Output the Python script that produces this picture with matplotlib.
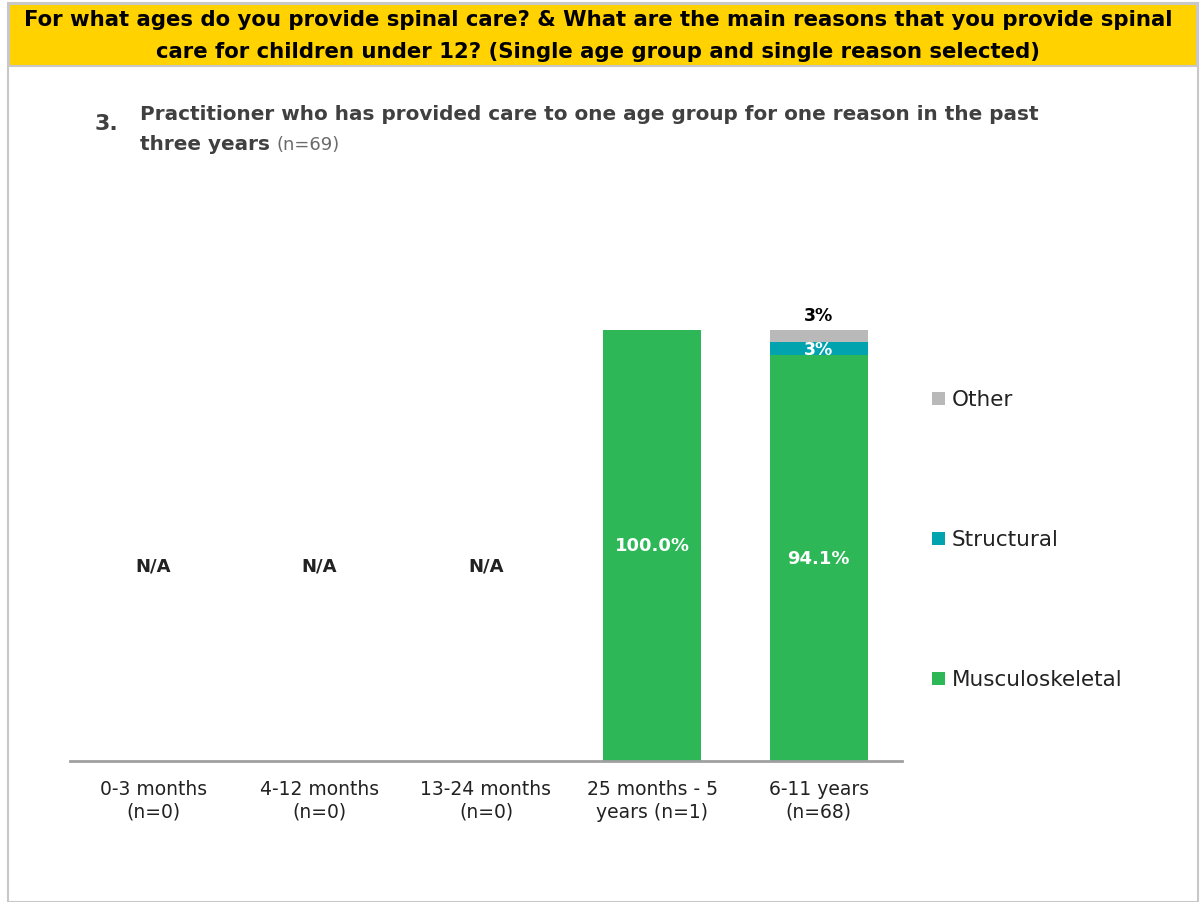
import numpy as np
import matplotlib.pyplot as plt
from matplotlib.patches import Rectangle

categories = ["0-3 months\n(n=0)", "4-12 months\n(n=0)", "13-24 months\n(n=0)",
              "25 months - 5\nyears (n=1)", "6-11 years\n(n=68)"]
musculoskeletal = [0, 0, 0, 100.0, 94.1]
structural = [0, 0, 0, 0, 3.0]
other = [0, 0, 0, 0, 3.0]
has_data = [False, False, False, True, True]

series_names = ["Musculoskeletal", "Structural", "Other"]
colors = ["#2DB757", "#00A3AE", "#B9B9B9"]

fig = plt.figure(figsize=(12.01, 9.03), dpi=100)
W, H = 1201, 903

def fx(px):
    return px / W

def fy(py):
    return 1 - py / H

# outer frame and yellow banner
fig.patches.append(Rectangle((fx(8), fy(903)), fx(1198) - fx(8), fy(4) - fy(903),
                             transform=fig.transFigure, facecolor="white",
                             edgecolor="#C8C8C8", linewidth=1.5, zorder=-2))
fig.patches.append(Rectangle((fx(9), fy(67)), fx(1197) - fx(9), fy(5) - fy(67),
                             transform=fig.transFigure, facecolor="#FFD200",
                             edgecolor="#C8C8C8", linewidth=1.5, zorder=-1))
fig.text(fx(598), fy(36), "For what ages do you provide spinal care? & What are the main reasons that you provide spinal\n"
         "care for children under 12? (Single age group and single reason selected)",
         ha="center", va="center", fontsize=15.3, fontweight="bold", color="black",
         linespacing=1.75)

# subtitle
fig.text(fx(95), fy(124), "3.", ha="left", va="center", fontsize=16, fontweight="bold", color="#404040")
fig.text(fx(140), fy(115), "Practitioner who has provided care to one age group for one reason in the past",
         ha="left", va="center", fontsize=14.4, fontweight="bold", color="#404040")
t = fig.text(fx(140), fy(145), "three years", ha="left", va="center", fontsize=14.4,
             fontweight="bold", color="#404040")
fig.canvas.draw()
bb = t.get_window_extent()
fig.text(bb.x1 / W + 0.005, fy(145), "(n=69)", ha="left", va="center", fontsize=13, color="#6A6A6A")

# chart axes
ax = fig.add_axes([fx(70), fy(762), fx(902) - fx(70), fy(331) - fy(762)])
ax.set_zorder(2)
ax.set_facecolor("none")
x = np.arange(len(categories))
width = 0.59
bottom = np.zeros(len(categories))
for vals, name, col in zip([musculoskeletal, structural, other], series_names, colors):
    vals = np.array(vals)
    ax.bar(x, vals, width, bottom=bottom, color=col, label=name, zorder=2)
    bottom += vals

ax.set_xlim(-0.5, len(categories) - 0.5)
ax.set_ylim(0, 100)
ax.set_yticks([])
ax.set_xticks(x)
ax.set_xticklabels(categories, fontsize=13.5, color="#222222", linespacing=1.25)
ax.tick_params(axis="x", length=0, pad=13)
for s in ["top", "right", "left"]:
    ax.spines[s].set_visible(False)
ax.spines["bottom"].set_color("#A0A0A0")
ax.spines["bottom"].set_linewidth(2)

for i in range(len(categories)):
    if not has_data[i]:
        ax.text(x[i], 45.3, "N/A", ha="center", va="center", fontsize=13,
                fontweight="bold", color="#222222")
        continue
    m = musculoskeletal[i]
    ax.text(x[i], m / 2, f"{m:.1f}%", ha="center", va="center", fontsize=13,
            fontweight="bold", color="white")
    if structural[i] > 0:
        ax.text(x[i], m + structural[i] / 2, f"{structural[i]:.0f}%", ha="center",
                va="center", fontsize=12.5, fontweight="bold", color="white")
    if other[i] > 0:
        ax.text(x[i], m + structural[i] + other[i] + 3.3, f"{other[i]:.0f}%", ha="center",
                va="center", fontsize=12.5, fontweight="bold", color="black")

# legend as separate entries
legend_y = {"Other": 400, "Structural": 540, "Musculoskeletal": 680}
for name, col in zip(series_names, colors):
    yy = legend_y[name]
    fig.patches.append(Rectangle((fx(932), fy(yy + 6)), fx(13), 13 / H,
                                 transform=fig.transFigure, facecolor=col, edgecolor="none"))
    fig.text(fx(952), fy(yy), name, ha="left", va="center", fontsize=15.5, color="#222222")

fig.savefig("out.png", dpi=100)
